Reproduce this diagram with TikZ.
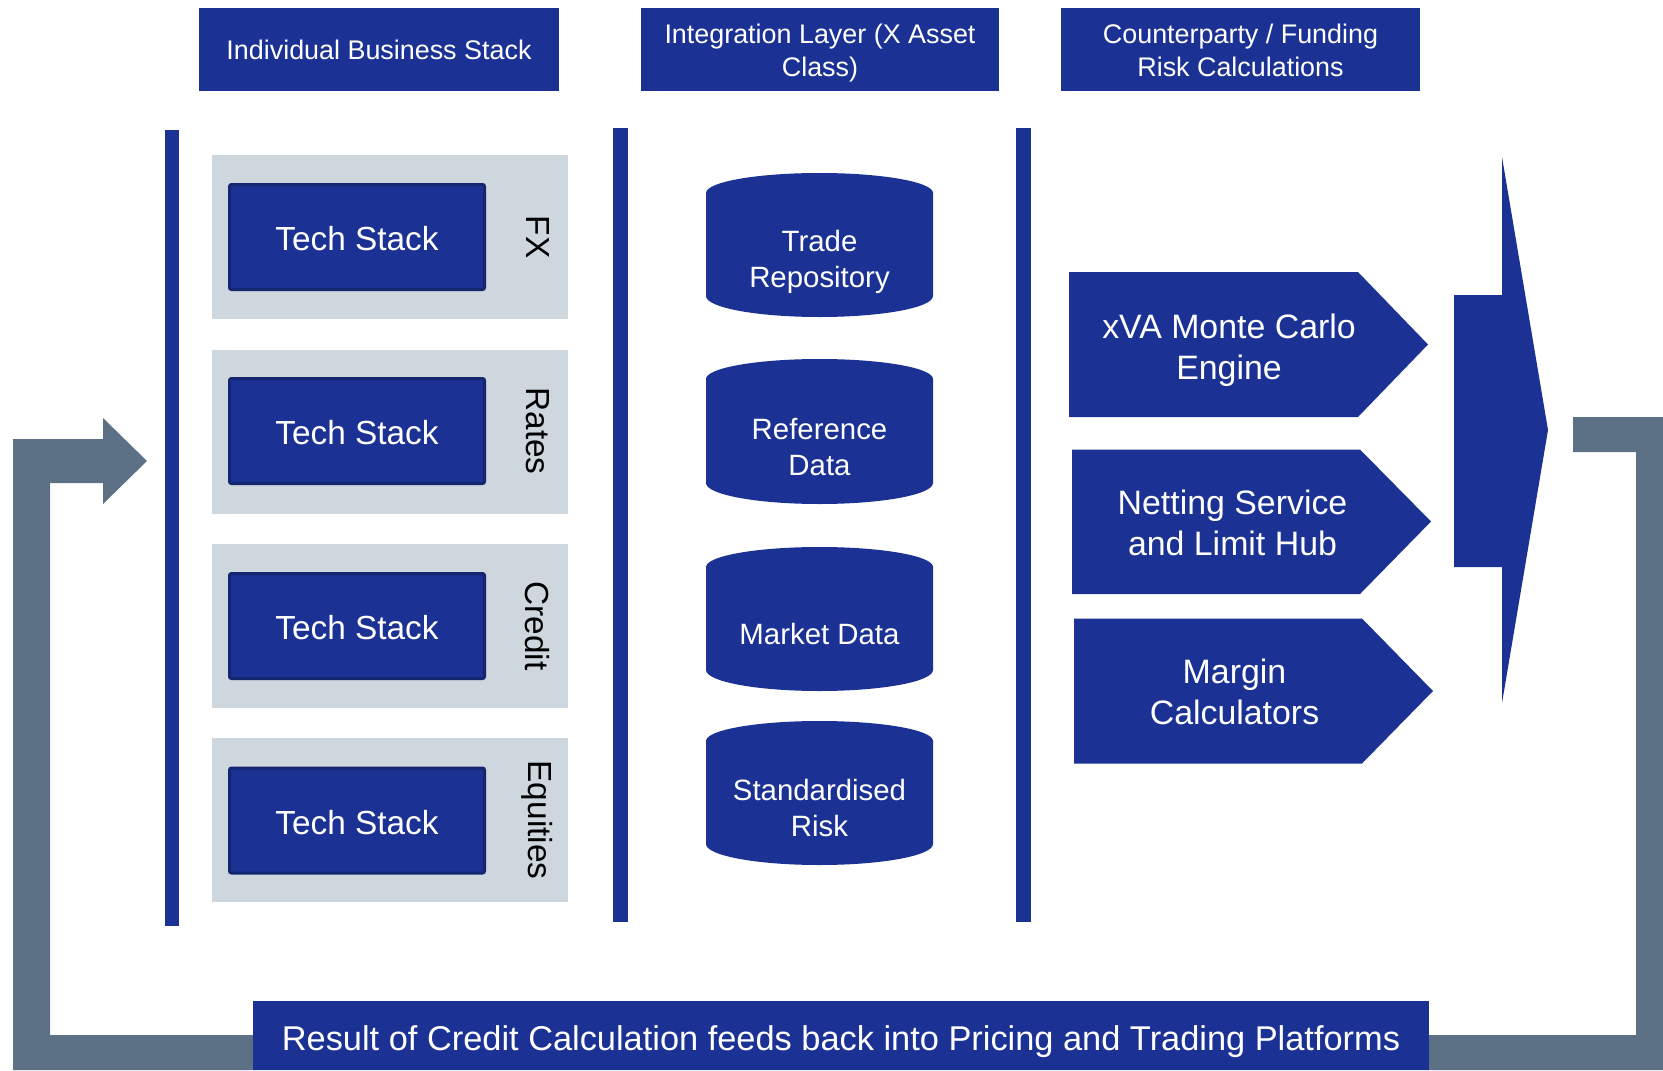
\documentclass[tikz,border=0pt]{standalone}
\usepackage{fontspec}
\setmainfont{Liberation Sans}
\definecolor{mainblue}{HTML}{1B3294}
\definecolor{edgeblue}{HTML}{142670}
\definecolor{panelgray}{HTML}{CED6DE}
\definecolor{loopgray}{HTML}{5D7186}
\begin{document}
\begin{tikzpicture}[x=1bp,y=-1bp,
  hdr/.style={fill=mainblue,inner sep=0pt,minimum height=83bp},
  hdrtext/.style={text=white,inner sep=0pt,align=center,font=\fontsize{27}{33}\selectfont},
  panel/.style={fill=panelgray,inner sep=0pt,minimum width=356bp,minimum height=164bp},
  techbox/.style={fill=mainblue,draw=edgeblue,line width=3bp,rounded corners=2bp,
    text=white,inner sep=0pt,minimum width=255bp,minimum height=105bp,
    font=\fontsize{33.5}{40}\selectfont},
  sidelabel/.style={rotate=-90,inner sep=0pt,font=\fontsize{33.5}{40}\selectfont},
  dbtext/.style={text=white,align=center,inner sep=0pt,font=\fontsize{29.5}{36}\selectfont},
  pentext/.style={text=white,align=center,inner sep=0pt,font=\fontsize{34}{41}\selectfont},
  bar/.style={fill=mainblue}
]
\useasboundingbox (0,0) rectangle (1663,1070);

% feedback loop (grey)
\fill[loopgray] (1573,417) -- (1663,417) -- (1663,1070) -- (13,1070) -- (13,439)
  -- (103,439) -- (103,418) -- (147,461) -- (103,504) -- (103,483) -- (50,483)
  -- (50,1035) -- (1636,1035) -- (1636,452) -- (1573,452) -- cycle;

% headers
\node[hdr,minimum width=360bp] (h1) at (379,49.5) {};
\node[hdr,minimum width=358bp] (h2) at (820,49.5) {};
\node[hdr,minimum width=359bp] (h3) at (1240.5,49.5) {};
\node[hdrtext] (h1t) at (379,50) {Individual Business Stack};
\node[hdrtext] (h2t) at (820,53) {Integration Layer (X Asset\\Class)};
\node[hdrtext] (h3t) at (1240.5,50) {Counterparty / Funding\\Risk Calculations};

% vertical bars
\fill[bar] (165,130) rectangle (179,926);
\fill[bar] (613,128) rectangle (628,922);
\fill[bar] (1016,128) rectangle (1031,922);

% business panels
\node[panel] (p1) at (390,237) {};
\node[panel] (p2) at (390,431.5) {};
\node[panel] (p3) at (390,626) {};
\node[panel] (p4) at (390,820) {};
\node[techbox] (t1) at (357,237) {};
\node[techbox] (t2) at (357,431) {};
\node[techbox] (t3) at (357,626) {};
\node[techbox] (t4) at (357,820.5) {};
\foreach \n/\yy in {1/239,2/433,3/628,4/822.5}{
  \node[text=white,inner sep=0pt,font=\fontsize{33.5}{40}\selectfont] (ts\n) at (357,\yy) {Tech Stack};
}
\node[sidelabel] (l1) at (537.5,237) {FX};
\node[sidelabel] (l2) at (537.5,431) {Rates};
\node[sidelabel] (l3) at (537.5,626) {Credit};
\node[sidelabel] (l4) at (537.5,820) {Equities};

% databases
\foreach \tp/\bt in {173/317,359/504,547/691,721/865}{
  \fill[mainblue] (706,\tp+20) arc[start angle=180,end angle=0,x radius=113.5bp,y radius=20bp]
    -- (933,\bt-21) arc[start angle=0,end angle=-180,x radius=113.5bp,y radius=21bp] -- cycle;
}
\node[dbtext] (d1) at (819.5,262) {Trade\\Repository};
\node[dbtext] (d2) at (819.5,447) {Reference\\Data};
\node[dbtext] (d3) at (819.5,634) {Market Data};
\node[dbtext] (d4) at (819.5,808) {Standardised\\Risk};

% calculators
\fill[mainblue] (1069,272) -- (1358,272) -- (1428,344.5) -- (1358,417) -- (1069,417) -- cycle;
\fill[mainblue] (1072,449.5) -- (1360,449.5) -- (1431,521.5) -- (1360,594) -- (1072,594) -- cycle;
\fill[mainblue] (1074,618.5) -- (1362,618.5) -- (1433,691) -- (1362,763.5) -- (1074,763.5) -- cycle;
\node[pentext] (c1) at (1229,350) {xVA Monte Carlo\\Engine};
\node[pentext] (c2) at (1232.5,523) {Netting Service\\and Limit Hub};
\node[pentext] (c3) at (1234.5,692) {Margin\\Calculators};

% big arrow
\fill[mainblue] (1454,295) -- (1502,295) -- (1502,157) -- (1548,430) -- (1502,703)
  -- (1502,567) -- (1454,567) -- cycle;

% bottom banner
\node[fill=mainblue,inner sep=0pt,minimum width=1176bp,minimum height=69bp] (band) at (841,1035.5) {};
\node[text=white,inner sep=0pt,font=\fontsize{34.5}{41}\selectfont] (res) at (841,1041.5)
  {Result of Credit Calculation feeds back into Pricing and Trading Platforms};
\end{tikzpicture}
\end{document}
